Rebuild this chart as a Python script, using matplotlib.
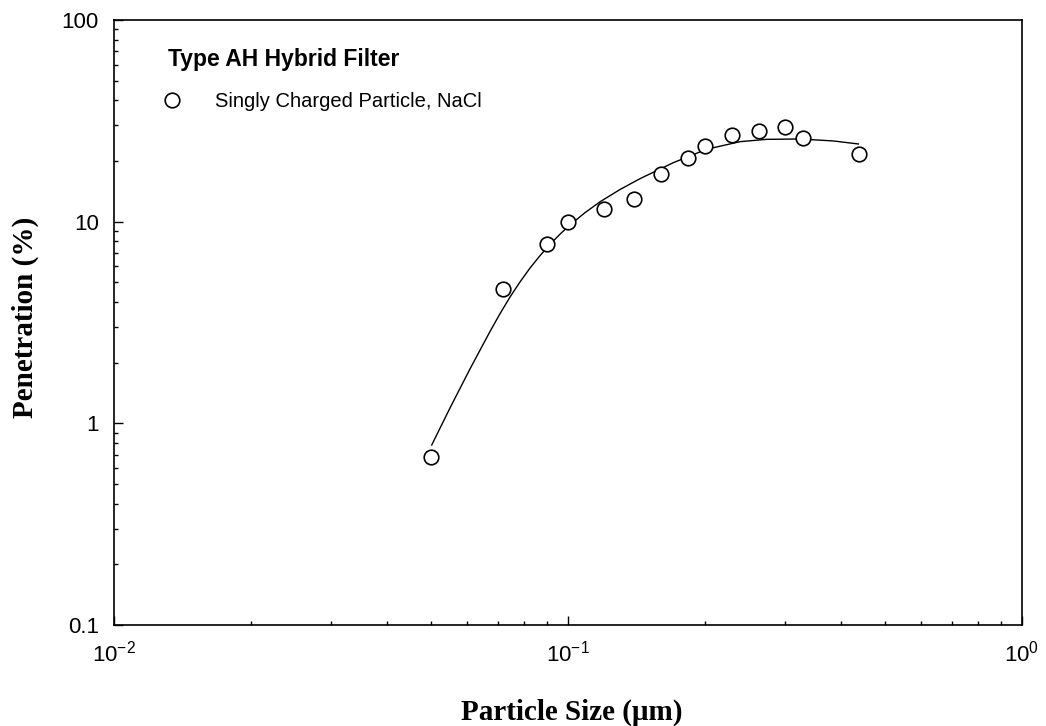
import numpy as np
import matplotlib
matplotlib.use('Agg')
from matplotlib import pyplot as plt
from matplotlib.ticker import LogLocator, NullFormatter

plt.rcParams['font.family'] = 'Liberation Sans'
plt.rcParams['mathtext.fontset'] = 'custom'
plt.rcParams['mathtext.rm'] = 'Liberation Sans'

# measured penetration, singly charged NaCl particles
size_um = [0.05, 0.072, 0.09, 0.10, 0.12, 0.14, 0.16, 0.184, 0.20, 0.23, 0.263, 0.30, 0.33, 0.437]
penetration = [0.68, 4.65, 7.75, 10.0, 11.6, 13.0, 17.2, 20.7, 23.7, 27.0, 28.1, 29.5, 26.0, 21.6]

# fitted curve
fit_size = [0.0501, 0.05497, 0.06083, 0.06732, 0.07082, 0.0745, 0.07838, 0.08245,
            0.08675, 0.09129, 0.09603, 0.1010, 0.1090, 0.1176, 0.1302, 0.1441,
            0.1706, 0.2020, 0.2393, 0.274, 0.3243, 0.3842, 0.436]
fit_pen = [0.781, 1.192, 1.861, 2.852, 3.494, 4.224, 5.023, 5.883,
           6.783, 7.72, 8.67, 9.63, 11.08, 12.54, 14.44, 16.34,
           19.61, 22.86, 24.93, 25.6, 25.7, 25.13, 24.28]

f = plt.figure(figsize=(10.46, 7.26), dpi=100)
ax = f.add_axes([114/1046, 1-625/726, (1022-114)/1046, (625-20)/726])

ax.plot(fit_size, fit_pen, color='k', lw=1.0)
ax.plot(size_um, penetration, 'o', mfc='white', mec='k', ms=10.5, mew=1.2,
        label='Singly Charged Particle, NaCl')

ax.set_xscale('log')
ax.set_yscale('log')
ax.set_xlim(0.01, 1)
ax.set_ylim(0.1, 100)
ax.set_yticks([0.1, 1, 10, 100])
ax.set_yticklabels(['0.1', '1', '10', '100'])
ax.xaxis.set_minor_locator(LogLocator(base=10, subs=np.arange(2, 10)))
ax.yaxis.set_minor_locator(LogLocator(base=10, subs=np.arange(2, 10)))
ax.xaxis.set_minor_formatter(NullFormatter())
ax.yaxis.set_minor_formatter(NullFormatter())

ax.tick_params(which='both', direction='in', top=False, right=False, labelsize=16, width=1)
ax.tick_params(axis='x', which='major', pad=11)
ax.tick_params(axis='y', which='major', pad=11)
ax.tick_params(which='major', length=6.5)
ax.tick_params(which='minor', length=3)
for s in ax.spines.values():
    s.set_linewidth(1.2)

f.text(571.7/1046, 1-712/726, 'Particle Size (\u03bcm)', family='Liberation Serif',
       weight='bold', fontsize=21, ha='center', va='center')
f.text(25.5/1046, 1-317.5/726, 'Penetration (%)', family='Liberation Serif',
       weight='bold', fontsize=21, ha='center', va='center', rotation=90)

ax.text(0.0595, 0.924, 'Type AH Hybrid Filter', transform=ax.transAxes, fontsize=16.5,
        weight='bold', va='baseline')
ax.legend(loc='center left', bbox_to_anchor=(0.0417, 0.866), frameon=False, fontsize=14.5,
          handletextpad=1.54, borderaxespad=0, handlelength=1.2)

plt.savefig('out.png', dpi=100)
